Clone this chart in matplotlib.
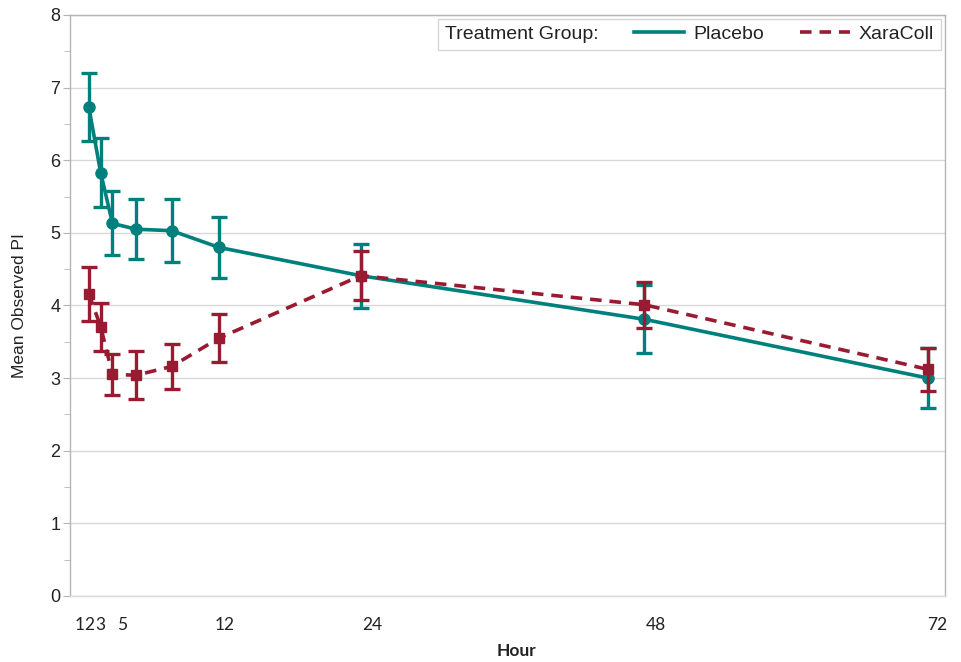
import matplotlib
matplotlib.use("Agg")
import matplotlib.pyplot as plt
from matplotlib.lines import Line2D
from matplotlib.offsetbox import HPacker

# Mean observed PI by hour, with error bar half-widths
hours = [1, 2, 3, 5, 8, 12, 24, 48, 72]

placebo_mean = [6.73, 5.83, 5.13, 5.05, 5.03, 4.80, 4.41, 3.81, 3.00]
placebo_err = [0.47, 0.48, 0.44, 0.41, 0.43, 0.42, 0.44, 0.47, 0.41]

xara_mean = [4.16, 3.71, 3.05, 3.04, 3.16, 3.55, 4.41, 4.01, 3.12]
xara_err = [0.37, 0.33, 0.28, 0.33, 0.31, 0.33, 0.34, 0.32, 0.30]

tick_labels = ["1", "2", "3", "5", "12", "24", "48", "72"]
tick_pos = [0.25, 1.0, 1.95, 3.8, 12.5, 25.0, 49.0, 72.8]

TEAL = "#00807C"
MAROON = "#981B32"
GRID = "#d9d9d9"
FRAME = "#b4b4b4"
DASH = (0, (3.2, 2.2))

fig = plt.figure(figsize=(9.62, 6.62), dpi=100)
ax = fig.add_axes([0.0728, 0.0997, 0.9095, 0.8777])

ax.errorbar(hours, placebo_mean, yerr=placebo_err, color=TEAL, lw=2.6,
            marker="o", ms=8, capsize=5.5, capthick=2.4, elinewidth=2.4,
            zorder=3)
ax.errorbar(hours, xara_mean, yerr=xara_err, color=MAROON, lw=2.6,
            ls=DASH, marker="s", ms=7, capsize=5.5, capthick=2.4,
            elinewidth=2.4, zorder=4)

ax.set_xlim(-0.59, 73.43)
ax.set_ylim(0, 8)

ax.set_yticks(range(0, 9))
ax.set_yticks([i + 0.5 for i in range(8)], minor=True)
ax.yaxis.grid(True, color=GRID, lw=1)
ax.set_axisbelow(True)
ax.tick_params(axis="y", which="both", direction="out", color=FRAME,
               labelsize=13, labelcolor="#222222", pad=2)
ax.tick_params(axis="y", which="major", length=5)
ax.tick_params(axis="y", which="minor", length=4)
for lab in ax.get_yticklabels():
    lab.set_family("Liberation Sans")

ax.set_xticks(tick_pos)
ax.set_xticklabels(tick_labels, family="Lato", fontsize=12.5, color="#222222")
ax.tick_params(axis="x", length=0, pad=15)

for side in ["left", "right", "top", "bottom"]:
    ax.spines[side].set_color(FRAME)
    ax.spines[side].set_linewidth(1)
ax.spines["bottom"].set_color(GRID)

ax.set_xlabel("Hour", family="Lato", fontweight="bold", fontsize=12.5,
              color="#222222")
ax.xaxis.set_label_coords(0.51, -0.081)
ax.set_ylabel("Mean Observed PI", family="Liberation Sans", fontsize=12.5,
              color="#222222")
ax.yaxis.set_label_coords(-0.049, 0.5)

handles = [
    Line2D([], [], color=TEAL, lw=2.6),
    Line2D([], [], color=MAROON, lw=2.6, ls=DASH),
]
leg = ax.legend(handles, ["Placebo", "XaraColl"], ncol=2, loc="upper right",
                bbox_to_anchor=(1.0, 1.0), frameon=True, fancybox=False,
                title="Treatment Group:",
                title_fontproperties={"family": "Liberation Sans", "size": 14},
                prop={"family": "Liberation Sans", "size": 14},
                handlelength=2.6, handletextpad=0.45, columnspacing=1.85,
                borderpad=0.35, borderaxespad=0.2)

# put the title on the same row as the entries
fs = leg._fontsize
leg._legend_box = HPacker(pad=leg.borderpad * fs, sep=1.8 * fs,
                          align="center",
                          children=[leg._legend_title_box,
                                    leg._legend_handle_box])
leg._legend_box.set_figure(fig)
leg._legend_box.axes = ax
leg._legend_box.set_offset(leg._findoffset)

leg.get_frame().set_edgecolor("#cccccc")
leg.get_frame().set_linewidth(1)
for t in leg.get_texts():
    t.set_color("#222222")
leg.get_title().set_color("#222222")

fig.savefig("out.png", dpi=100, facecolor="white")
